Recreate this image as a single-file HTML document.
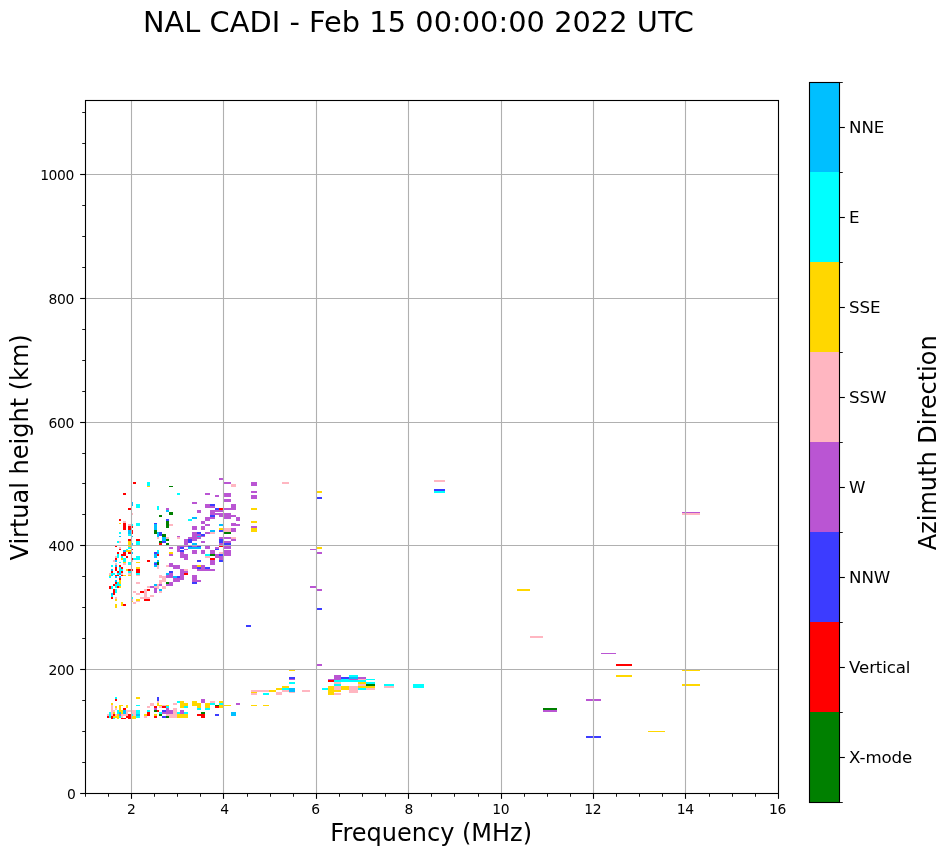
<!DOCTYPE html>
<html lang="en"><head><meta charset="utf-8"><title>NAL CADI - Feb 15 00:00:00 2022 UTC</title>
<style>
html,body{margin:0;padding:0;background:#fff;}
body{width:951px;height:856px;overflow:hidden;}
svg{display:block;will-change:transform;}
text{font-family:"DejaVu Sans","Liberation Sans",sans-serif;fill:#000;}
.tk{font-size:13.89px;letter-spacing:-0.4px;}
.cb{font-size:16.67px;letter-spacing:-0.15px;}
.lab{font-size:24px;}
.ttl{font-size:28.8px;letter-spacing:0.04px;}
</style></head><body>
<svg width="951" height="856" viewBox="0 0 951 856">
<rect x="0" y="0" width="951" height="856" fill="#ffffff"/>
<g id="cells" shape-rendering="crispEdges">
<rect x="517" y="589" width="13" height="2" fill="#ffd700"/>
<rect x="530" y="636" width="13" height="2" fill="#ffb6c1"/>
<rect x="543" y="708" width="14" height="2" fill="#008000"/>
<rect x="543" y="710" width="14" height="2" fill="#ba55d3"/>
<rect x="586" y="699" width="15" height="2" fill="#ba55d3"/>
<rect x="586" y="736" width="15" height="2" fill="#3c3cff"/>
<rect x="601" y="653" width="15" height="1" fill="#ba55d3"/>
<rect x="616" y="664" width="16" height="2" fill="#ff0000"/>
<rect x="616" y="675" width="16" height="2" fill="#ffd700"/>
<rect x="648" y="731" width="17" height="1" fill="#ffd700"/>
<rect x="682" y="669" width="18" height="2" fill="#ffd700"/>
<rect x="682" y="684" width="18" height="2" fill="#ffd700"/>
<rect x="115" y="697" width="2" height="2" fill="#00ffff"/>
<rect x="115" y="699" width="2" height="2" fill="#ff0000"/>
<rect x="111" y="703" width="2" height="2" fill="#ffd700"/>
<rect x="111" y="705" width="2" height="1" fill="#ffb6c1"/>
<rect x="119" y="705" width="4" height="1" fill="#ffd700"/>
<rect x="126" y="705" width="2" height="1" fill="#ffd700"/>
<rect x="111" y="706" width="2" height="2" fill="#ffb6c1"/>
<rect x="115" y="706" width="2" height="2" fill="#ffd700"/>
<rect x="119" y="706" width="2" height="2" fill="#ffd700"/>
<rect x="126" y="706" width="2" height="2" fill="#ffd700"/>
<rect x="111" y="708" width="2" height="2" fill="#ffb6c1"/>
<rect x="115" y="708" width="2" height="2" fill="#ffb6c1"/>
<rect x="119" y="708" width="2" height="2" fill="#ffd700"/>
<rect x="123" y="708" width="3" height="2" fill="#ff0000"/>
<rect x="111" y="710" width="4" height="2" fill="#ffb6c1"/>
<rect x="117" y="710" width="2" height="2" fill="#00ffff"/>
<rect x="119" y="710" width="4" height="2" fill="#ffd700"/>
<rect x="123" y="710" width="3" height="2" fill="#00bfff"/>
<rect x="126" y="710" width="5" height="2" fill="#ffb6c1"/>
<rect x="109" y="712" width="2" height="2" fill="#00ffff"/>
<rect x="111" y="712" width="2" height="2" fill="#ffb6c1"/>
<rect x="113" y="712" width="2" height="2" fill="#ffd700"/>
<rect x="117" y="712" width="2" height="2" fill="#00ffff"/>
<rect x="119" y="712" width="2" height="2" fill="#00bfff"/>
<rect x="121" y="712" width="2" height="2" fill="#ffd700"/>
<rect x="123" y="712" width="3" height="2" fill="#00bfff"/>
<rect x="126" y="712" width="2" height="2" fill="#ffb6c1"/>
<rect x="107" y="714" width="2" height="2" fill="#ffb6c1"/>
<rect x="109" y="714" width="2" height="2" fill="#00ffff"/>
<rect x="111" y="714" width="2" height="2" fill="#ffb6c1"/>
<rect x="113" y="714" width="2" height="2" fill="#ff0000"/>
<rect x="115" y="714" width="2" height="2" fill="#ffb6c1"/>
<rect x="117" y="714" width="2" height="2" fill="#ffd700"/>
<rect x="119" y="714" width="2" height="2" fill="#ba55d3"/>
<rect x="121" y="714" width="7" height="2" fill="#ffb6c1"/>
<rect x="128" y="714" width="3" height="2" fill="#ff0000"/>
<rect x="107" y="716" width="2" height="2" fill="#ff0000"/>
<rect x="109" y="716" width="2" height="2" fill="#00ffff"/>
<rect x="111" y="716" width="2" height="2" fill="#ff0000"/>
<rect x="113" y="716" width="6" height="2" fill="#ffd700"/>
<rect x="119" y="716" width="2" height="2" fill="#00ffff"/>
<rect x="121" y="716" width="2" height="2" fill="#ffb6c1"/>
<rect x="126" y="716" width="5" height="2" fill="#ff0000"/>
<rect x="111" y="718" width="2" height="1" fill="#ff0000"/>
<rect x="113" y="718" width="2" height="1" fill="#00ffff"/>
<rect x="117" y="718" width="2" height="1" fill="#ffd700"/>
<rect x="121" y="718" width="5" height="1" fill="#ff0000"/>
<rect x="128" y="718" width="3" height="1" fill="#ff0000"/>
<rect x="136" y="697" width="4" height="2" fill="#ffd700"/>
<rect x="157" y="697" width="2" height="2" fill="#3c3cff"/>
<rect x="157" y="699" width="2" height="2" fill="#3c3cff"/>
<rect x="157" y="701" width="2" height="2" fill="#ffb6c1"/>
<rect x="150" y="703" width="4" height="2" fill="#ffb6c1"/>
<rect x="157" y="703" width="2" height="2" fill="#ffd700"/>
<rect x="136" y="705" width="4" height="1" fill="#00ffff"/>
<rect x="150" y="705" width="4" height="1" fill="#ffb6c1"/>
<rect x="157" y="705" width="5" height="1" fill="#ffd700"/>
<rect x="147" y="706" width="3" height="2" fill="#ffb6c1"/>
<rect x="154" y="706" width="3" height="2" fill="#ff0000"/>
<rect x="159" y="706" width="3" height="2" fill="#ffb6c1"/>
<rect x="154" y="708" width="3" height="2" fill="#ba55d3"/>
<rect x="131" y="710" width="5" height="2" fill="#ffb6c1"/>
<rect x="136" y="710" width="4" height="2" fill="#00ffff"/>
<rect x="147" y="710" width="3" height="2" fill="#00ffff"/>
<rect x="154" y="710" width="3" height="2" fill="#008000"/>
<rect x="157" y="710" width="2" height="2" fill="#ff0000"/>
<rect x="131" y="712" width="5" height="2" fill="#ffb6c1"/>
<rect x="136" y="712" width="4" height="2" fill="#00ffff"/>
<rect x="147" y="712" width="3" height="2" fill="#ff0000"/>
<rect x="159" y="712" width="3" height="2" fill="#00ffff"/>
<rect x="131" y="714" width="2" height="2" fill="#00ffff"/>
<rect x="133" y="714" width="3" height="2" fill="#ffb6c1"/>
<rect x="136" y="714" width="4" height="2" fill="#00bfff"/>
<rect x="144" y="714" width="3" height="2" fill="#ffd700"/>
<rect x="147" y="714" width="3" height="2" fill="#ff0000"/>
<rect x="154" y="714" width="3" height="2" fill="#ffd700"/>
<rect x="159" y="714" width="3" height="2" fill="#008000"/>
<rect x="131" y="716" width="5" height="2" fill="#ffd700"/>
<rect x="136" y="716" width="4" height="2" fill="#00ffff"/>
<rect x="144" y="716" width="3" height="2" fill="#ffb6c1"/>
<rect x="154" y="716" width="3" height="2" fill="#ff0000"/>
<rect x="131" y="718" width="5" height="1" fill="#ffd700"/>
<rect x="177" y="701" width="3" height="2" fill="#00ffff"/>
<rect x="180" y="701" width="4" height="2" fill="#ffd700"/>
<rect x="192" y="701" width="5" height="2" fill="#ffd700"/>
<rect x="173" y="703" width="4" height="2" fill="#ffb6c1"/>
<rect x="180" y="703" width="8" height="2" fill="#ffd700"/>
<rect x="192" y="703" width="5" height="2" fill="#ffd700"/>
<rect x="162" y="705" width="4" height="1" fill="#ffb6c1"/>
<rect x="166" y="705" width="3" height="1" fill="#ffd700"/>
<rect x="180" y="705" width="8" height="1" fill="#ffd700"/>
<rect x="192" y="705" width="5" height="1" fill="#ffd700"/>
<rect x="162" y="706" width="4" height="2" fill="#ff0000"/>
<rect x="166" y="706" width="3" height="2" fill="#00ffff"/>
<rect x="180" y="706" width="4" height="2" fill="#ffd700"/>
<rect x="184" y="706" width="4" height="2" fill="#00ffff"/>
<rect x="166" y="708" width="3" height="2" fill="#ba55d3"/>
<rect x="173" y="708" width="4" height="2" fill="#ffb6c1"/>
<rect x="162" y="710" width="4" height="2" fill="#3c3cff"/>
<rect x="166" y="710" width="7" height="2" fill="#ba55d3"/>
<rect x="173" y="710" width="4" height="2" fill="#ffb6c1"/>
<rect x="180" y="710" width="4" height="2" fill="#ba55d3"/>
<rect x="162" y="712" width="11" height="2" fill="#ba55d3"/>
<rect x="173" y="712" width="4" height="2" fill="#ffb6c1"/>
<rect x="177" y="712" width="3" height="2" fill="#00ffff"/>
<rect x="180" y="712" width="4" height="2" fill="#ba55d3"/>
<rect x="184" y="712" width="4" height="2" fill="#00ffff"/>
<rect x="166" y="714" width="11" height="2" fill="#ffb6c1"/>
<rect x="177" y="714" width="11" height="2" fill="#ffd700"/>
<rect x="162" y="716" width="4" height="2" fill="#3c3cff"/>
<rect x="166" y="716" width="3" height="2" fill="#008000"/>
<rect x="169" y="716" width="8" height="2" fill="#ffb6c1"/>
<rect x="177" y="716" width="11" height="2" fill="#ffd700"/>
<rect x="201" y="699" width="4" height="2" fill="#ba55d3"/>
<rect x="201" y="701" width="4" height="2" fill="#ba55d3"/>
<rect x="210" y="701" width="5" height="2" fill="#ffb6c1"/>
<rect x="219" y="701" width="5" height="2" fill="#ffd700"/>
<rect x="197" y="703" width="4" height="2" fill="#ffd700"/>
<rect x="205" y="703" width="5" height="2" fill="#ffd700"/>
<rect x="210" y="703" width="5" height="2" fill="#00ffff"/>
<rect x="219" y="703" width="5" height="2" fill="#00ffff"/>
<rect x="197" y="705" width="4" height="1" fill="#ffd700"/>
<rect x="205" y="705" width="5" height="1" fill="#ffd700"/>
<rect x="215" y="705" width="4" height="1" fill="#008000"/>
<rect x="219" y="705" width="5" height="1" fill="#ffd700"/>
<rect x="197" y="706" width="4" height="2" fill="#ffd700"/>
<rect x="205" y="706" width="5" height="2" fill="#ffd700"/>
<rect x="215" y="706" width="4" height="2" fill="#ff0000"/>
<rect x="219" y="706" width="5" height="2" fill="#ffd700"/>
<rect x="197" y="708" width="4" height="2" fill="#00ffff"/>
<rect x="205" y="708" width="5" height="2" fill="#00ffff"/>
<rect x="201" y="712" width="4" height="2" fill="#008000"/>
<rect x="197" y="714" width="8" height="2" fill="#ff0000"/>
<rect x="215" y="714" width="4" height="2" fill="#3c3cff"/>
<rect x="201" y="716" width="4" height="2" fill="#ff0000"/>
<rect x="224" y="705" width="7" height="1" fill="#ffd700"/>
<rect x="236" y="703" width="4" height="2" fill="#ba55d3"/>
<rect x="231" y="712" width="5" height="4" fill="#00bfff"/>
<rect x="251" y="690" width="18" height="2" fill="#ffb6c1"/>
<rect x="251" y="692" width="6" height="1" fill="#ffd700"/>
<rect x="251" y="693" width="6" height="2" fill="#ffb6c1"/>
<rect x="263" y="693" width="6" height="2" fill="#00ffff"/>
<rect x="251" y="705" width="6" height="1" fill="#ffd700"/>
<rect x="263" y="705" width="6" height="1" fill="#ffd700"/>
<rect x="289" y="669" width="6" height="2" fill="#ffd700"/>
<rect x="289" y="677" width="6" height="2" fill="#3c3cff"/>
<rect x="289" y="679" width="6" height="1" fill="#ba55d3"/>
<rect x="289" y="682" width="6" height="2" fill="#00ffff"/>
<rect x="282" y="686" width="7" height="2" fill="#ffd700"/>
<rect x="276" y="688" width="6" height="2" fill="#ffd700"/>
<rect x="282" y="688" width="7" height="2" fill="#00ffff"/>
<rect x="289" y="688" width="6" height="2" fill="#00bfff"/>
<rect x="269" y="690" width="7" height="2" fill="#ffd700"/>
<rect x="282" y="690" width="7" height="2" fill="#ffb6c1"/>
<rect x="289" y="690" width="6" height="2" fill="#00bfff"/>
<rect x="302" y="690" width="8" height="2" fill="#ffb6c1"/>
<rect x="276" y="692" width="6" height="1" fill="#ffb6c1"/>
<rect x="289" y="692" width="6" height="1" fill="#ffb6c1"/>
<rect x="276" y="693" width="6" height="2" fill="#ffb6c1"/>
<rect x="316" y="664" width="6" height="2" fill="#ba55d3"/>
<rect x="334" y="675" width="7" height="2" fill="#ba55d3"/>
<rect x="349" y="675" width="9" height="2" fill="#00ffff"/>
<rect x="334" y="677" width="7" height="2" fill="#ba55d3"/>
<rect x="341" y="677" width="8" height="2" fill="#3c3cff"/>
<rect x="349" y="677" width="9" height="2" fill="#00bfff"/>
<rect x="328" y="679" width="13" height="1" fill="#ba55d3"/>
<rect x="341" y="679" width="8" height="1" fill="#00ffff"/>
<rect x="349" y="679" width="9" height="1" fill="#ba55d3"/>
<rect x="328" y="680" width="6" height="2" fill="#ff0000"/>
<rect x="334" y="680" width="24" height="2" fill="#00ffff"/>
<rect x="334" y="682" width="7" height="2" fill="#ffb6c1"/>
<rect x="334" y="684" width="7" height="2" fill="#00ffff"/>
<rect x="328" y="686" width="6" height="2" fill="#ffd700"/>
<rect x="334" y="686" width="7" height="2" fill="#ffb6c1"/>
<rect x="341" y="686" width="8" height="2" fill="#ffd700"/>
<rect x="349" y="686" width="9" height="2" fill="#ffb6c1"/>
<rect x="322" y="688" width="6" height="2" fill="#00ffff"/>
<rect x="328" y="688" width="6" height="2" fill="#ffd700"/>
<rect x="334" y="688" width="7" height="2" fill="#ffb6c1"/>
<rect x="341" y="688" width="8" height="2" fill="#ffd700"/>
<rect x="349" y="688" width="9" height="2" fill="#ffb6c1"/>
<rect x="328" y="690" width="13" height="2" fill="#ffd700"/>
<rect x="349" y="690" width="9" height="2" fill="#ffb6c1"/>
<rect x="328" y="692" width="6" height="1" fill="#ffd700"/>
<rect x="349" y="692" width="9" height="1" fill="#ffb6c1"/>
<rect x="328" y="693" width="6" height="2" fill="#ffd700"/>
<rect x="334" y="693" width="7" height="2" fill="#ffb6c1"/>
<rect x="358" y="677" width="8" height="2" fill="#ba55d3"/>
<rect x="358" y="679" width="8" height="1" fill="#ffb6c1"/>
<rect x="366" y="679" width="9" height="1" fill="#00ffff"/>
<rect x="358" y="680" width="8" height="2" fill="#00ffff"/>
<rect x="358" y="682" width="8" height="2" fill="#ffd700"/>
<rect x="366" y="682" width="9" height="2" fill="#00ffff"/>
<rect x="358" y="684" width="8" height="2" fill="#ffb6c1"/>
<rect x="366" y="684" width="9" height="2" fill="#008000"/>
<rect x="384" y="684" width="10" height="2" fill="#00ffff"/>
<rect x="358" y="686" width="17" height="2" fill="#ffd700"/>
<rect x="384" y="686" width="10" height="2" fill="#ffb6c1"/>
<rect x="358" y="688" width="8" height="2" fill="#00ffff"/>
<rect x="366" y="688" width="9" height="2" fill="#ffb6c1"/>
<rect x="413" y="684" width="11" height="4" fill="#00ffff"/>
<rect x="133" y="482" width="3" height="2" fill="#ff0000"/>
<rect x="147" y="482" width="3" height="4" fill="#00ffff"/>
<rect x="147" y="486" width="3" height="1" fill="#ffd700"/>
<rect x="123" y="493" width="3" height="2" fill="#ff0000"/>
<rect x="131" y="502" width="2" height="4" fill="#00bfff"/>
<rect x="136" y="504" width="4" height="4" fill="#00ffff"/>
<rect x="128" y="508" width="3" height="2" fill="#ff0000"/>
<rect x="131" y="513" width="2" height="2" fill="#ffb6c1"/>
<rect x="169" y="486" width="4" height="1" fill="#008000"/>
<rect x="177" y="493" width="3" height="2" fill="#00ffff"/>
<rect x="192" y="502" width="5" height="2" fill="#ba55d3"/>
<rect x="157" y="506" width="2" height="4" fill="#00ffff"/>
<rect x="166" y="508" width="3" height="2" fill="#ba55d3"/>
<rect x="166" y="510" width="3" height="2" fill="#00bfff"/>
<rect x="169" y="512" width="4" height="3" fill="#008000"/>
<rect x="159" y="515" width="3" height="2" fill="#008000"/>
<rect x="166" y="519" width="3" height="2" fill="#3c3cff"/>
<rect x="192" y="517" width="5" height="2" fill="#00bfff"/>
<rect x="188" y="519" width="4" height="2" fill="#00ffff"/>
<rect x="219" y="478" width="5" height="2" fill="#ba55d3"/>
<rect x="224" y="482" width="7" height="2" fill="#ba55d3"/>
<rect x="231" y="484" width="5" height="3" fill="#ffb6c1"/>
<rect x="205" y="493" width="5" height="2" fill="#ba55d3"/>
<rect x="215" y="495" width="4" height="2" fill="#ba55d3"/>
<rect x="224" y="493" width="7" height="4" fill="#ba55d3"/>
<rect x="224" y="499" width="7" height="3" fill="#ba55d3"/>
<rect x="205" y="504" width="5" height="4" fill="#ba55d3"/>
<rect x="210" y="504" width="5" height="2" fill="#3c3cff"/>
<rect x="210" y="506" width="5" height="2" fill="#ba55d3"/>
<rect x="231" y="504" width="5" height="6" fill="#ba55d3"/>
<rect x="215" y="508" width="4" height="2" fill="#3c3cff"/>
<rect x="219" y="508" width="5" height="2" fill="#ff0000"/>
<rect x="224" y="508" width="7" height="2" fill="#ba55d3"/>
<rect x="197" y="510" width="4" height="3" fill="#ba55d3"/>
<rect x="210" y="510" width="5" height="5" fill="#ba55d3"/>
<rect x="215" y="510" width="9" height="2" fill="#ba55d3"/>
<rect x="215" y="513" width="9" height="2" fill="#ba55d3"/>
<rect x="224" y="513" width="7" height="6" fill="#ba55d3"/>
<rect x="210" y="515" width="5" height="2" fill="#3c3cff"/>
<rect x="219" y="515" width="5" height="2" fill="#ba55d3"/>
<rect x="231" y="515" width="5" height="2" fill="#ba55d3"/>
<rect x="205" y="517" width="10" height="2" fill="#ba55d3"/>
<rect x="236" y="517" width="4" height="2" fill="#ba55d3"/>
<rect x="251" y="482" width="6" height="4" fill="#ba55d3"/>
<rect x="251" y="491" width="6" height="2" fill="#ba55d3"/>
<rect x="251" y="495" width="6" height="4" fill="#ba55d3"/>
<rect x="251" y="508" width="6" height="2" fill="#ffd700"/>
<rect x="251" y="521" width="6" height="2" fill="#ffd700"/>
<rect x="251" y="526" width="6" height="2" fill="#ba55d3"/>
<rect x="251" y="528" width="6" height="4" fill="#ffd700"/>
<rect x="282" y="482" width="7" height="2" fill="#ffb6c1"/>
<rect x="316" y="491" width="6" height="2" fill="#ffd700"/>
<rect x="316" y="497" width="6" height="2" fill="#3c3cff"/>
<rect x="316" y="547" width="6" height="2" fill="#ffd700"/>
<rect x="310" y="549" width="6" height="1" fill="#ba55d3"/>
<rect x="316" y="552" width="6" height="2" fill="#ba55d3"/>
<rect x="119" y="519" width="2" height="2" fill="#ff0000"/>
<rect x="123" y="521" width="3" height="2" fill="#ffb6c1"/>
<rect x="119" y="523" width="2" height="1" fill="#ffd700"/>
<rect x="123" y="523" width="3" height="1" fill="#ff0000"/>
<rect x="136" y="523" width="4" height="1" fill="#00ffff"/>
<rect x="123" y="524" width="3" height="2" fill="#ff0000"/>
<rect x="128" y="524" width="3" height="2" fill="#ffb6c1"/>
<rect x="131" y="524" width="2" height="2" fill="#00ffff"/>
<rect x="136" y="524" width="4" height="2" fill="#00ffff"/>
<rect x="123" y="526" width="3" height="2" fill="#ff0000"/>
<rect x="128" y="526" width="5" height="2" fill="#ff0000"/>
<rect x="123" y="528" width="3" height="2" fill="#ff0000"/>
<rect x="128" y="528" width="3" height="2" fill="#ff0000"/>
<rect x="128" y="530" width="3" height="2" fill="#00bfff"/>
<rect x="131" y="530" width="2" height="2" fill="#ff0000"/>
<rect x="119" y="532" width="2" height="2" fill="#00ffff"/>
<rect x="128" y="532" width="3" height="2" fill="#00bfff"/>
<rect x="131" y="532" width="2" height="2" fill="#ff0000"/>
<rect x="128" y="534" width="3" height="2" fill="#00ffff"/>
<rect x="119" y="536" width="2" height="1" fill="#00bfff"/>
<rect x="131" y="536" width="2" height="1" fill="#00bfff"/>
<rect x="128" y="539" width="3" height="2" fill="#ff0000"/>
<rect x="136" y="539" width="4" height="2" fill="#ff0000"/>
<rect x="117" y="541" width="2" height="2" fill="#00ffff"/>
<rect x="119" y="541" width="2" height="2" fill="#ffb6c1"/>
<rect x="128" y="541" width="3" height="2" fill="#ffd700"/>
<rect x="136" y="541" width="4" height="2" fill="#00ffff"/>
<rect x="128" y="543" width="3" height="2" fill="#ffd700"/>
<rect x="131" y="543" width="2" height="2" fill="#00bfff"/>
<rect x="136" y="543" width="4" height="2" fill="#00ffff"/>
<rect x="115" y="545" width="2" height="2" fill="#ff0000"/>
<rect x="128" y="545" width="3" height="2" fill="#ffd700"/>
<rect x="119" y="547" width="2" height="2" fill="#ffb6c1"/>
<rect x="128" y="547" width="3" height="2" fill="#00ffff"/>
<rect x="119" y="549" width="2" height="1" fill="#ff0000"/>
<rect x="126" y="549" width="2" height="1" fill="#00ffff"/>
<rect x="131" y="549" width="2" height="1" fill="#ff0000"/>
<rect x="123" y="550" width="3" height="2" fill="#00bfff"/>
<rect x="126" y="550" width="5" height="2" fill="#ffd700"/>
<rect x="117" y="552" width="2" height="2" fill="#ff0000"/>
<rect x="123" y="552" width="3" height="2" fill="#ff0000"/>
<rect x="128" y="552" width="3" height="2" fill="#ff0000"/>
<rect x="131" y="552" width="2" height="2" fill="#00bfff"/>
<rect x="117" y="554" width="2" height="2" fill="#00ffff"/>
<rect x="121" y="554" width="5" height="2" fill="#ff0000"/>
<rect x="115" y="556" width="2" height="2" fill="#ffb6c1"/>
<rect x="117" y="556" width="2" height="2" fill="#00ffff"/>
<rect x="121" y="556" width="2" height="2" fill="#00ffff"/>
<rect x="126" y="556" width="2" height="2" fill="#ff0000"/>
<rect x="136" y="556" width="4" height="2" fill="#00ffff"/>
<rect x="115" y="558" width="2" height="2" fill="#ff0000"/>
<rect x="121" y="558" width="2" height="2" fill="#ffd700"/>
<rect x="123" y="558" width="3" height="2" fill="#00ffff"/>
<rect x="131" y="558" width="2" height="2" fill="#ff0000"/>
<rect x="133" y="558" width="7" height="2" fill="#00ffff"/>
<rect x="113" y="560" width="2" height="2" fill="#ffb6c1"/>
<rect x="115" y="560" width="2" height="2" fill="#00bfff"/>
<rect x="123" y="560" width="3" height="2" fill="#00ffff"/>
<rect x="131" y="560" width="2" height="2" fill="#ffb6c1"/>
<rect x="147" y="560" width="3" height="2" fill="#ff0000"/>
<rect x="119" y="562" width="2" height="1" fill="#00ffff"/>
<rect x="123" y="562" width="3" height="1" fill="#ffd700"/>
<rect x="128" y="562" width="3" height="1" fill="#00ffff"/>
<rect x="136" y="562" width="4" height="1" fill="#ffd700"/>
<rect x="115" y="563" width="2" height="2" fill="#ffb6c1"/>
<rect x="123" y="563" width="3" height="2" fill="#ffb6c1"/>
<rect x="128" y="563" width="3" height="2" fill="#00ffff"/>
<rect x="166" y="519" width="3" height="2" fill="#3c3cff"/>
<rect x="188" y="519" width="4" height="2" fill="#00ffff"/>
<rect x="166" y="521" width="3" height="2" fill="#008000"/>
<rect x="154" y="523" width="3" height="1" fill="#3c3cff"/>
<rect x="166" y="523" width="3" height="1" fill="#008000"/>
<rect x="154" y="524" width="3" height="2" fill="#00bfff"/>
<rect x="166" y="524" width="3" height="2" fill="#008000"/>
<rect x="169" y="524" width="4" height="2" fill="#ffb6c1"/>
<rect x="154" y="526" width="3" height="2" fill="#00bfff"/>
<rect x="166" y="526" width="3" height="2" fill="#008000"/>
<rect x="192" y="526" width="5" height="2" fill="#ba55d3"/>
<rect x="154" y="528" width="3" height="2" fill="#00bfff"/>
<rect x="192" y="528" width="5" height="2" fill="#ba55d3"/>
<rect x="154" y="530" width="3" height="2" fill="#008000"/>
<rect x="154" y="532" width="3" height="2" fill="#008000"/>
<rect x="157" y="532" width="2" height="2" fill="#00bfff"/>
<rect x="159" y="532" width="3" height="2" fill="#3c3cff"/>
<rect x="192" y="532" width="5" height="2" fill="#ba55d3"/>
<rect x="157" y="534" width="2" height="2" fill="#00bfff"/>
<rect x="159" y="534" width="3" height="2" fill="#3c3cff"/>
<rect x="162" y="534" width="4" height="2" fill="#008000"/>
<rect x="192" y="534" width="5" height="2" fill="#ba55d3"/>
<rect x="157" y="536" width="2" height="1" fill="#00bfff"/>
<rect x="162" y="536" width="4" height="1" fill="#008000"/>
<rect x="177" y="536" width="3" height="1" fill="#ba55d3"/>
<rect x="192" y="536" width="5" height="1" fill="#ba55d3"/>
<rect x="157" y="537" width="2" height="2" fill="#ffb6c1"/>
<rect x="162" y="537" width="4" height="2" fill="#00bfff"/>
<rect x="166" y="537" width="3" height="2" fill="#ffb6c1"/>
<rect x="177" y="537" width="3" height="2" fill="#ffb6c1"/>
<rect x="188" y="537" width="9" height="2" fill="#ba55d3"/>
<rect x="162" y="539" width="4" height="2" fill="#00bfff"/>
<rect x="166" y="539" width="3" height="2" fill="#008000"/>
<rect x="184" y="539" width="4" height="2" fill="#ba55d3"/>
<rect x="188" y="539" width="4" height="2" fill="#3c3cff"/>
<rect x="192" y="539" width="5" height="2" fill="#ba55d3"/>
<rect x="159" y="541" width="3" height="2" fill="#008000"/>
<rect x="162" y="541" width="4" height="2" fill="#3c3cff"/>
<rect x="184" y="541" width="4" height="2" fill="#ba55d3"/>
<rect x="188" y="541" width="4" height="2" fill="#3c3cff"/>
<rect x="159" y="543" width="3" height="2" fill="#ff0000"/>
<rect x="166" y="543" width="3" height="2" fill="#008000"/>
<rect x="184" y="543" width="4" height="2" fill="#ba55d3"/>
<rect x="192" y="543" width="5" height="2" fill="#00bfff"/>
<rect x="177" y="545" width="11" height="2" fill="#ba55d3"/>
<rect x="188" y="545" width="4" height="2" fill="#3c3cff"/>
<rect x="192" y="545" width="5" height="2" fill="#ba55d3"/>
<rect x="169" y="547" width="4" height="2" fill="#ba55d3"/>
<rect x="177" y="547" width="3" height="2" fill="#ba55d3"/>
<rect x="180" y="547" width="4" height="2" fill="#3c3cff"/>
<rect x="188" y="547" width="9" height="2" fill="#00bfff"/>
<rect x="177" y="549" width="3" height="1" fill="#ba55d3"/>
<rect x="184" y="549" width="4" height="1" fill="#ba55d3"/>
<rect x="157" y="550" width="2" height="2" fill="#00ffff"/>
<rect x="177" y="550" width="3" height="2" fill="#ba55d3"/>
<rect x="180" y="550" width="4" height="2" fill="#3c3cff"/>
<rect x="192" y="550" width="5" height="2" fill="#ba55d3"/>
<rect x="154" y="552" width="3" height="2" fill="#3c3cff"/>
<rect x="157" y="552" width="2" height="2" fill="#00bfff"/>
<rect x="169" y="552" width="4" height="2" fill="#ffd700"/>
<rect x="180" y="552" width="4" height="2" fill="#ba55d3"/>
<rect x="192" y="552" width="5" height="2" fill="#ba55d3"/>
<rect x="154" y="554" width="3" height="2" fill="#00bfff"/>
<rect x="157" y="554" width="2" height="2" fill="#ff0000"/>
<rect x="169" y="554" width="4" height="2" fill="#ba55d3"/>
<rect x="180" y="554" width="8" height="2" fill="#ba55d3"/>
<rect x="154" y="556" width="3" height="2" fill="#00bfff"/>
<rect x="180" y="556" width="8" height="2" fill="#ba55d3"/>
<rect x="184" y="558" width="4" height="2" fill="#ba55d3"/>
<rect x="157" y="560" width="2" height="2" fill="#00bfff"/>
<rect x="154" y="562" width="3" height="1" fill="#00bfff"/>
<rect x="157" y="562" width="2" height="1" fill="#008000"/>
<rect x="154" y="563" width="3" height="2" fill="#3c3cff"/>
<rect x="157" y="563" width="2" height="2" fill="#008000"/>
<rect x="169" y="563" width="4" height="2" fill="#ba55d3"/>
<rect x="205" y="519" width="5" height="2" fill="#ba55d3"/>
<rect x="236" y="519" width="4" height="2" fill="#ba55d3"/>
<rect x="201" y="521" width="4" height="2" fill="#ba55d3"/>
<rect x="201" y="523" width="4" height="1" fill="#ba55d3"/>
<rect x="231" y="523" width="5" height="1" fill="#ba55d3"/>
<rect x="205" y="524" width="5" height="2" fill="#ba55d3"/>
<rect x="219" y="524" width="5" height="2" fill="#00bfff"/>
<rect x="231" y="524" width="9" height="2" fill="#ba55d3"/>
<rect x="201" y="526" width="4" height="2" fill="#ba55d3"/>
<rect x="201" y="528" width="4" height="2" fill="#ba55d3"/>
<rect x="219" y="528" width="5" height="2" fill="#ffd700"/>
<rect x="224" y="528" width="7" height="2" fill="#ffb6c1"/>
<rect x="231" y="528" width="5" height="2" fill="#ba55d3"/>
<rect x="210" y="530" width="5" height="2" fill="#00bfff"/>
<rect x="219" y="530" width="5" height="2" fill="#3c3cff"/>
<rect x="224" y="530" width="7" height="2" fill="#ffb6c1"/>
<rect x="231" y="530" width="5" height="2" fill="#ba55d3"/>
<rect x="197" y="532" width="4" height="2" fill="#3c3cff"/>
<rect x="205" y="532" width="5" height="2" fill="#ba55d3"/>
<rect x="210" y="532" width="5" height="2" fill="#ffb6c1"/>
<rect x="224" y="532" width="7" height="2" fill="#008000"/>
<rect x="197" y="534" width="4" height="2" fill="#ba55d3"/>
<rect x="201" y="534" width="4" height="2" fill="#3c3cff"/>
<rect x="197" y="536" width="4" height="1" fill="#00bfff"/>
<rect x="201" y="536" width="4" height="1" fill="#ba55d3"/>
<rect x="197" y="537" width="4" height="2" fill="#ba55d3"/>
<rect x="219" y="537" width="12" height="2" fill="#ba55d3"/>
<rect x="231" y="537" width="5" height="2" fill="#ffb6c1"/>
<rect x="219" y="539" width="5" height="2" fill="#3c3cff"/>
<rect x="231" y="539" width="5" height="2" fill="#ba55d3"/>
<rect x="201" y="541" width="4" height="2" fill="#ba55d3"/>
<rect x="219" y="541" width="5" height="2" fill="#3c3cff"/>
<rect x="224" y="541" width="7" height="2" fill="#ba55d3"/>
<rect x="219" y="543" width="5" height="2" fill="#ba55d3"/>
<rect x="224" y="543" width="7" height="2" fill="#3c3cff"/>
<rect x="197" y="545" width="4" height="2" fill="#3c3cff"/>
<rect x="205" y="545" width="5" height="2" fill="#ba55d3"/>
<rect x="219" y="545" width="5" height="2" fill="#ff0000"/>
<rect x="224" y="545" width="7" height="2" fill="#ba55d3"/>
<rect x="197" y="547" width="4" height="2" fill="#00bfff"/>
<rect x="205" y="547" width="5" height="2" fill="#ba55d3"/>
<rect x="215" y="547" width="4" height="2" fill="#ba55d3"/>
<rect x="224" y="547" width="7" height="2" fill="#ba55d3"/>
<rect x="215" y="549" width="4" height="1" fill="#3c3cff"/>
<rect x="201" y="550" width="4" height="2" fill="#ba55d3"/>
<rect x="210" y="550" width="5" height="2" fill="#ba55d3"/>
<rect x="224" y="550" width="7" height="2" fill="#ba55d3"/>
<rect x="201" y="552" width="4" height="2" fill="#ba55d3"/>
<rect x="210" y="552" width="5" height="2" fill="#ba55d3"/>
<rect x="219" y="552" width="5" height="2" fill="#ffb6c1"/>
<rect x="224" y="552" width="7" height="2" fill="#ba55d3"/>
<rect x="205" y="554" width="5" height="2" fill="#00ffff"/>
<rect x="210" y="554" width="5" height="2" fill="#008000"/>
<rect x="215" y="554" width="4" height="2" fill="#ba55d3"/>
<rect x="219" y="554" width="5" height="2" fill="#3c3cff"/>
<rect x="224" y="554" width="7" height="2" fill="#ba55d3"/>
<rect x="205" y="556" width="5" height="2" fill="#ffb6c1"/>
<rect x="215" y="556" width="9" height="2" fill="#ba55d3"/>
<rect x="210" y="558" width="5" height="2" fill="#ff0000"/>
<rect x="219" y="558" width="5" height="2" fill="#ba55d3"/>
<rect x="197" y="560" width="4" height="2" fill="#3c3cff"/>
<rect x="210" y="560" width="5" height="2" fill="#ba55d3"/>
<rect x="219" y="560" width="5" height="2" fill="#3c3cff"/>
<rect x="210" y="562" width="5" height="1" fill="#ba55d3"/>
<rect x="210" y="563" width="5" height="2" fill="#ba55d3"/>
<rect x="111" y="565" width="2" height="2" fill="#00ffff"/>
<rect x="115" y="565" width="2" height="2" fill="#00bfff"/>
<rect x="119" y="565" width="2" height="2" fill="#ff0000"/>
<rect x="115" y="567" width="2" height="2" fill="#ff0000"/>
<rect x="119" y="567" width="2" height="2" fill="#00ffff"/>
<rect x="121" y="567" width="2" height="2" fill="#ff0000"/>
<rect x="136" y="567" width="4" height="2" fill="#ffd700"/>
<rect x="111" y="569" width="2" height="2" fill="#00bfff"/>
<rect x="115" y="569" width="2" height="2" fill="#ff0000"/>
<rect x="119" y="569" width="4" height="2" fill="#00ffff"/>
<rect x="126" y="569" width="2" height="2" fill="#ffd700"/>
<rect x="128" y="569" width="5" height="2" fill="#ff0000"/>
<rect x="136" y="569" width="4" height="2" fill="#ff0000"/>
<rect x="111" y="571" width="2" height="2" fill="#ff0000"/>
<rect x="117" y="571" width="2" height="2" fill="#ff0000"/>
<rect x="119" y="571" width="2" height="2" fill="#00ffff"/>
<rect x="121" y="571" width="2" height="2" fill="#ff0000"/>
<rect x="128" y="571" width="3" height="2" fill="#00ffff"/>
<rect x="136" y="571" width="4" height="2" fill="#ff0000"/>
<rect x="109" y="573" width="2" height="2" fill="#ffb6c1"/>
<rect x="111" y="573" width="4" height="2" fill="#00ffff"/>
<rect x="117" y="573" width="2" height="2" fill="#00ffff"/>
<rect x="119" y="573" width="2" height="2" fill="#00bfff"/>
<rect x="121" y="573" width="2" height="2" fill="#ffb6c1"/>
<rect x="128" y="573" width="3" height="2" fill="#ffb6c1"/>
<rect x="136" y="573" width="4" height="2" fill="#00ffff"/>
<rect x="109" y="575" width="2" height="1" fill="#ffd700"/>
<rect x="111" y="575" width="2" height="1" fill="#00bfff"/>
<rect x="115" y="575" width="4" height="1" fill="#ff0000"/>
<rect x="121" y="575" width="2" height="1" fill="#ff0000"/>
<rect x="123" y="575" width="3" height="1" fill="#ffd700"/>
<rect x="128" y="575" width="3" height="1" fill="#ffd700"/>
<rect x="136" y="575" width="4" height="1" fill="#ffb6c1"/>
<rect x="109" y="576" width="2" height="2" fill="#00ffff"/>
<rect x="115" y="576" width="2" height="2" fill="#00bfff"/>
<rect x="119" y="576" width="2" height="2" fill="#00bfff"/>
<rect x="119" y="578" width="2" height="2" fill="#ff0000"/>
<rect x="115" y="580" width="2" height="2" fill="#00bfff"/>
<rect x="119" y="580" width="2" height="2" fill="#ffd700"/>
<rect x="115" y="582" width="2" height="2" fill="#ff0000"/>
<rect x="117" y="582" width="2" height="2" fill="#00ffff"/>
<rect x="119" y="582" width="2" height="2" fill="#ffd700"/>
<rect x="136" y="582" width="4" height="2" fill="#ffb6c1"/>
<rect x="113" y="584" width="2" height="2" fill="#ff0000"/>
<rect x="115" y="584" width="6" height="2" fill="#00ffff"/>
<rect x="109" y="586" width="2" height="2" fill="#ff0000"/>
<rect x="111" y="586" width="2" height="2" fill="#00ffff"/>
<rect x="115" y="586" width="2" height="2" fill="#00ffff"/>
<rect x="117" y="586" width="2" height="2" fill="#ff0000"/>
<rect x="119" y="586" width="2" height="2" fill="#ffd700"/>
<rect x="147" y="586" width="3" height="2" fill="#ffb6c1"/>
<rect x="150" y="586" width="4" height="2" fill="#ba55d3"/>
<rect x="109" y="588" width="2" height="1" fill="#ff0000"/>
<rect x="111" y="588" width="2" height="1" fill="#00ffff"/>
<rect x="113" y="589" width="2" height="2" fill="#ff0000"/>
<rect x="115" y="589" width="2" height="2" fill="#00ffff"/>
<rect x="144" y="589" width="3" height="2" fill="#ffb6c1"/>
<rect x="147" y="589" width="3" height="2" fill="#ff0000"/>
<rect x="113" y="591" width="2" height="2" fill="#ff0000"/>
<rect x="115" y="591" width="2" height="2" fill="#00ffff"/>
<rect x="133" y="591" width="3" height="2" fill="#ffb6c1"/>
<rect x="140" y="591" width="4" height="2" fill="#ff0000"/>
<rect x="144" y="591" width="3" height="2" fill="#ffb6c1"/>
<rect x="111" y="593" width="2" height="2" fill="#00bfff"/>
<rect x="113" y="593" width="2" height="2" fill="#ff0000"/>
<rect x="136" y="593" width="4" height="2" fill="#ffb6c1"/>
<rect x="144" y="593" width="3" height="2" fill="#ffb6c1"/>
<rect x="111" y="595" width="2" height="2" fill="#00ffff"/>
<rect x="144" y="595" width="3" height="2" fill="#ffb6c1"/>
<rect x="150" y="595" width="4" height="2" fill="#ffb6c1"/>
<rect x="111" y="597" width="2" height="2" fill="#ff0000"/>
<rect x="115" y="597" width="2" height="2" fill="#ffb6c1"/>
<rect x="131" y="597" width="2" height="2" fill="#00ffff"/>
<rect x="140" y="597" width="10" height="2" fill="#ffb6c1"/>
<rect x="115" y="599" width="2" height="2" fill="#ffd700"/>
<rect x="131" y="599" width="2" height="2" fill="#ffb6c1"/>
<rect x="136" y="599" width="4" height="2" fill="#ffd700"/>
<rect x="144" y="599" width="6" height="2" fill="#ff0000"/>
<rect x="131" y="601" width="2" height="1" fill="#ffd700"/>
<rect x="136" y="601" width="4" height="1" fill="#ffb6c1"/>
<rect x="121" y="602" width="2" height="2" fill="#ffd700"/>
<rect x="133" y="602" width="3" height="2" fill="#ffb6c1"/>
<rect x="115" y="604" width="2" height="2" fill="#ffd700"/>
<rect x="121" y="604" width="2" height="2" fill="#ffd700"/>
<rect x="123" y="604" width="3" height="2" fill="#ff0000"/>
<rect x="115" y="606" width="2" height="2" fill="#ffd700"/>
<rect x="154" y="565" width="3" height="2" fill="#00bfff"/>
<rect x="157" y="565" width="2" height="2" fill="#ffb6c1"/>
<rect x="166" y="565" width="3" height="2" fill="#ffb6c1"/>
<rect x="169" y="565" width="11" height="2" fill="#ba55d3"/>
<rect x="192" y="565" width="5" height="2" fill="#ba55d3"/>
<rect x="157" y="567" width="2" height="2" fill="#ffb6c1"/>
<rect x="173" y="567" width="7" height="2" fill="#ba55d3"/>
<rect x="192" y="567" width="5" height="2" fill="#ba55d3"/>
<rect x="180" y="569" width="4" height="2" fill="#ba55d3"/>
<rect x="184" y="569" width="4" height="2" fill="#ffb6c1"/>
<rect x="169" y="571" width="4" height="2" fill="#3c3cff"/>
<rect x="180" y="571" width="8" height="2" fill="#ba55d3"/>
<rect x="166" y="573" width="3" height="2" fill="#00bfff"/>
<rect x="169" y="573" width="4" height="2" fill="#ba55d3"/>
<rect x="180" y="573" width="4" height="2" fill="#ba55d3"/>
<rect x="184" y="573" width="4" height="2" fill="#ff0000"/>
<rect x="159" y="575" width="3" height="1" fill="#ffb6c1"/>
<rect x="166" y="575" width="7" height="1" fill="#ba55d3"/>
<rect x="180" y="575" width="4" height="1" fill="#ba55d3"/>
<rect x="192" y="575" width="5" height="1" fill="#ba55d3"/>
<rect x="159" y="576" width="7" height="2" fill="#ffb6c1"/>
<rect x="166" y="576" width="7" height="2" fill="#ba55d3"/>
<rect x="173" y="576" width="4" height="2" fill="#00bfff"/>
<rect x="177" y="576" width="3" height="2" fill="#3c3cff"/>
<rect x="180" y="576" width="4" height="2" fill="#ba55d3"/>
<rect x="192" y="576" width="5" height="2" fill="#ba55d3"/>
<rect x="162" y="578" width="4" height="2" fill="#ffb6c1"/>
<rect x="173" y="578" width="11" height="2" fill="#ba55d3"/>
<rect x="192" y="578" width="5" height="2" fill="#ba55d3"/>
<rect x="159" y="580" width="7" height="2" fill="#ffb6c1"/>
<rect x="173" y="580" width="7" height="2" fill="#ba55d3"/>
<rect x="192" y="580" width="5" height="2" fill="#ba55d3"/>
<rect x="159" y="582" width="3" height="2" fill="#ffb6c1"/>
<rect x="166" y="582" width="3" height="2" fill="#008000"/>
<rect x="169" y="582" width="4" height="2" fill="#ba55d3"/>
<rect x="192" y="582" width="5" height="2" fill="#3c3cff"/>
<rect x="154" y="584" width="3" height="2" fill="#00bfff"/>
<rect x="157" y="584" width="2" height="2" fill="#ffb6c1"/>
<rect x="159" y="584" width="3" height="2" fill="#ba55d3"/>
<rect x="166" y="584" width="7" height="2" fill="#ba55d3"/>
<rect x="154" y="586" width="5" height="2" fill="#ffb6c1"/>
<rect x="162" y="586" width="4" height="2" fill="#ffb6c1"/>
<rect x="154" y="588" width="3" height="1" fill="#ba55d3"/>
<rect x="157" y="588" width="2" height="1" fill="#ffb6c1"/>
<rect x="162" y="588" width="4" height="1" fill="#ffb6c1"/>
<rect x="154" y="589" width="3" height="2" fill="#ba55d3"/>
<rect x="159" y="589" width="3" height="2" fill="#00bfff"/>
<rect x="154" y="591" width="3" height="2" fill="#ba55d3"/>
<rect x="159" y="591" width="3" height="2" fill="#ffb6c1"/>
<rect x="197" y="565" width="4" height="2" fill="#ffd700"/>
<rect x="201" y="565" width="4" height="2" fill="#ba55d3"/>
<rect x="197" y="567" width="4" height="2" fill="#3c3cff"/>
<rect x="201" y="567" width="4" height="2" fill="#ba55d3"/>
<rect x="205" y="567" width="5" height="2" fill="#3c3cff"/>
<rect x="197" y="569" width="18" height="2" fill="#ba55d3"/>
<rect x="197" y="580" width="4" height="2" fill="#ba55d3"/>
<rect x="310" y="586" width="6" height="2" fill="#ba55d3"/>
<rect x="316" y="589" width="6" height="2" fill="#ba55d3"/>
<rect x="316" y="608" width="6" height="2" fill="#3c3cff"/>
<rect x="246" y="625" width="5" height="2" fill="#3c3cff"/>
<rect x="434" y="480" width="11" height="2" fill="#ffb6c1"/>
<rect x="434" y="489" width="11" height="2" fill="#3c3cff"/>
<rect x="434" y="491" width="11" height="2" fill="#00ffff"/>
<rect x="682" y="512" width="18" height="1" fill="#ba55d3"/>
<rect x="682" y="513" width="18" height="2" fill="#ffb6c1"/>
</g>
<g stroke="#b0b0b0" stroke-width="1.11" fill="none">
<line x1="131.50" y1="100.50" x2="131.50" y2="793.50"/>
<line x1="223.50" y1="100.50" x2="223.50" y2="793.50"/>
<line x1="316.50" y1="100.50" x2="316.50" y2="793.50"/>
<line x1="408.50" y1="100.50" x2="408.50" y2="793.50"/>
<line x1="501.50" y1="100.50" x2="501.50" y2="793.50"/>
<line x1="593.50" y1="100.50" x2="593.50" y2="793.50"/>
<line x1="685.50" y1="100.50" x2="685.50" y2="793.50"/>
<line x1="85.50" y1="669.50" x2="778.50" y2="669.50"/>
<line x1="85.50" y1="545.50" x2="778.50" y2="545.50"/>
<line x1="85.50" y1="422.50" x2="778.50" y2="422.50"/>
<line x1="85.50" y1="298.50" x2="778.50" y2="298.50"/>
<line x1="85.50" y1="174.50" x2="778.50" y2="174.50"/>
</g>
<g stroke="#000" stroke-width="1.11" fill="none">
<line x1="131.50" y1="794.00" x2="131.50" y2="798.86"/>
<line x1="223.50" y1="794.00" x2="223.50" y2="798.86"/>
<line x1="316.50" y1="794.00" x2="316.50" y2="798.86"/>
<line x1="408.50" y1="794.00" x2="408.50" y2="798.86"/>
<line x1="501.50" y1="794.00" x2="501.50" y2="798.86"/>
<line x1="593.50" y1="794.00" x2="593.50" y2="798.86"/>
<line x1="685.50" y1="794.00" x2="685.50" y2="798.86"/>
<line x1="778.50" y1="794.00" x2="778.50" y2="798.86"/>
<line x1="85.50" y1="794.00" x2="85.50" y2="796.78" stroke-width="0.9"/>
<line x1="108.50" y1="794.00" x2="108.50" y2="796.78" stroke-width="0.9"/>
<line x1="154.50" y1="794.00" x2="154.50" y2="796.78" stroke-width="0.9"/>
<line x1="177.50" y1="794.00" x2="177.50" y2="796.78" stroke-width="0.9"/>
<line x1="200.50" y1="794.00" x2="200.50" y2="796.78" stroke-width="0.9"/>
<line x1="247.50" y1="794.00" x2="247.50" y2="796.78" stroke-width="0.9"/>
<line x1="270.50" y1="794.00" x2="270.50" y2="796.78" stroke-width="0.9"/>
<line x1="293.50" y1="794.00" x2="293.50" y2="796.78" stroke-width="0.9"/>
<line x1="339.50" y1="794.00" x2="339.50" y2="796.78" stroke-width="0.9"/>
<line x1="362.50" y1="794.00" x2="362.50" y2="796.78" stroke-width="0.9"/>
<line x1="385.50" y1="794.00" x2="385.50" y2="796.78" stroke-width="0.9"/>
<line x1="431.50" y1="794.00" x2="431.50" y2="796.78" stroke-width="0.9"/>
<line x1="454.50" y1="794.00" x2="454.50" y2="796.78" stroke-width="0.9"/>
<line x1="478.50" y1="794.00" x2="478.50" y2="796.78" stroke-width="0.9"/>
<line x1="524.50" y1="794.00" x2="524.50" y2="796.78" stroke-width="0.9"/>
<line x1="547.50" y1="794.00" x2="547.50" y2="796.78" stroke-width="0.9"/>
<line x1="570.50" y1="794.00" x2="570.50" y2="796.78" stroke-width="0.9"/>
<line x1="616.50" y1="794.00" x2="616.50" y2="796.78" stroke-width="0.9"/>
<line x1="639.50" y1="794.00" x2="639.50" y2="796.78" stroke-width="0.9"/>
<line x1="662.50" y1="794.00" x2="662.50" y2="796.78" stroke-width="0.9"/>
<line x1="709.50" y1="794.00" x2="709.50" y2="796.78" stroke-width="0.9"/>
<line x1="732.50" y1="794.00" x2="732.50" y2="796.78" stroke-width="0.9"/>
<line x1="755.50" y1="794.00" x2="755.50" y2="796.78" stroke-width="0.9"/>
<line x1="80.14" y1="793.50" x2="85.00" y2="793.50"/>
<line x1="80.14" y1="669.50" x2="85.00" y2="669.50"/>
<line x1="80.14" y1="545.50" x2="85.00" y2="545.50"/>
<line x1="80.14" y1="422.50" x2="85.00" y2="422.50"/>
<line x1="80.14" y1="298.50" x2="85.00" y2="298.50"/>
<line x1="80.14" y1="174.50" x2="85.00" y2="174.50"/>
<line x1="82.22" y1="762.50" x2="85.00" y2="762.50" stroke-width="0.9"/>
<line x1="82.22" y1="731.50" x2="85.00" y2="731.50" stroke-width="0.9"/>
<line x1="82.22" y1="700.50" x2="85.00" y2="700.50" stroke-width="0.9"/>
<line x1="82.22" y1="638.50" x2="85.00" y2="638.50" stroke-width="0.9"/>
<line x1="82.22" y1="607.50" x2="85.00" y2="607.50" stroke-width="0.9"/>
<line x1="82.22" y1="576.50" x2="85.00" y2="576.50" stroke-width="0.9"/>
<line x1="82.22" y1="514.50" x2="85.00" y2="514.50" stroke-width="0.9"/>
<line x1="82.22" y1="483.50" x2="85.00" y2="483.50" stroke-width="0.9"/>
<line x1="82.22" y1="453.50" x2="85.00" y2="453.50" stroke-width="0.9"/>
<line x1="82.22" y1="391.50" x2="85.00" y2="391.50" stroke-width="0.9"/>
<line x1="82.22" y1="360.50" x2="85.00" y2="360.50" stroke-width="0.9"/>
<line x1="82.22" y1="329.50" x2="85.00" y2="329.50" stroke-width="0.9"/>
<line x1="82.22" y1="267.50" x2="85.00" y2="267.50" stroke-width="0.9"/>
<line x1="82.22" y1="236.50" x2="85.00" y2="236.50" stroke-width="0.9"/>
<line x1="82.22" y1="205.50" x2="85.00" y2="205.50" stroke-width="0.9"/>
<line x1="82.22" y1="143.50" x2="85.00" y2="143.50" stroke-width="0.9"/>
<line x1="82.22" y1="112.50" x2="85.00" y2="112.50" stroke-width="0.9"/>
</g>
<rect x="85.50" y="100.50" width="693.00" height="693.00" fill="none" stroke="#000" stroke-width="1.11"/>
<text class="tk" x="131.10" y="813.50" text-anchor="middle">2</text>
<text class="tk" x="224.40" y="813.50" text-anchor="middle">4</text>
<text class="tk" x="315.50" y="813.50" text-anchor="middle">6</text>
<text class="tk" x="408.80" y="813.50" text-anchor="middle">8</text>
<text class="tk" x="500.80" y="813.50" text-anchor="middle">10</text>
<text class="tk" x="592.80" y="813.50" text-anchor="middle">12</text>
<text class="tk" x="685.20" y="813.50" text-anchor="middle">14</text>
<text class="tk" x="777.40" y="813.50" text-anchor="middle">16</text>
<text class="tk" x="75.50" y="798.80" text-anchor="end">0</text>
<text class="tk" x="73.90" y="674.80" text-anchor="end">200</text>
<text class="tk" x="73.90" y="550.80" text-anchor="end">400</text>
<text class="tk" x="73.90" y="427.80" text-anchor="end">600</text>
<text class="tk" x="73.90" y="303.80" text-anchor="end">800</text>
<text class="tk" x="73.90" y="179.80" text-anchor="end">1000</text>
<text class="lab" x="431.20" y="840.60" text-anchor="middle">Frequency (MHz)</text>
<text class="lab" transform="translate(28.20,447.40) rotate(-90)" text-anchor="middle">Virtual height (km)</text>
<text class="ttl" x="418.50" y="32.00" text-anchor="middle">NAL CADI - Feb 15 00:00:00 2022 UTC</text>
<g shape-rendering="crispEdges">
<rect x="809" y="712" width="31" height="91" fill="#008000"/>
<rect x="809" y="622" width="31" height="90" fill="#ff0000"/>
<rect x="809" y="532" width="31" height="90" fill="#3c3cff"/>
<rect x="809" y="442" width="31" height="90" fill="#ba55d3"/>
<rect x="809" y="352" width="31" height="90" fill="#ffb6c1"/>
<rect x="809" y="262" width="31" height="90" fill="#ffd700"/>
<rect x="809" y="172" width="31" height="90" fill="#00ffff"/>
<rect x="809" y="82" width="31" height="90" fill="#00bfff"/>
</g>
<rect x="809.50" y="82.50" width="30.00" height="720.00" fill="none" stroke="#000" stroke-width="1.11"/>
<g stroke="#000" stroke-width="1.11" fill="none">
<line x1="840.00" y1="757.50" x2="844.86" y2="757.50"/>
<line x1="840.00" y1="667.50" x2="844.86" y2="667.50"/>
<line x1="840.00" y1="577.50" x2="844.86" y2="577.50"/>
<line x1="840.00" y1="487.50" x2="844.86" y2="487.50"/>
<line x1="840.00" y1="397.50" x2="844.86" y2="397.50"/>
<line x1="840.00" y1="307.50" x2="844.86" y2="307.50"/>
<line x1="840.00" y1="217.50" x2="844.86" y2="217.50"/>
<line x1="840.00" y1="127.50" x2="844.86" y2="127.50"/>
<line x1="840.00" y1="802.50" x2="842.78" y2="802.50" stroke-width="0.9"/>
<line x1="840.00" y1="712.50" x2="842.78" y2="712.50" stroke-width="0.9"/>
<line x1="840.00" y1="622.50" x2="842.78" y2="622.50" stroke-width="0.9"/>
<line x1="840.00" y1="532.50" x2="842.78" y2="532.50" stroke-width="0.9"/>
<line x1="840.00" y1="442.50" x2="842.78" y2="442.50" stroke-width="0.9"/>
<line x1="840.00" y1="352.50" x2="842.78" y2="352.50" stroke-width="0.9"/>
<line x1="840.00" y1="262.50" x2="842.78" y2="262.50" stroke-width="0.9"/>
<line x1="840.00" y1="172.50" x2="842.78" y2="172.50" stroke-width="0.9"/>
<line x1="840.00" y1="82.50" x2="842.78" y2="82.50" stroke-width="0.9"/>
</g>
<text class="cb" x="849.10" y="762.60">X-mode</text>
<text class="cb" x="849.10" y="672.60">Vertical</text>
<text class="cb" x="849.10" y="582.60">NNW</text>
<text class="cb" x="849.10" y="492.60">W</text>
<text class="cb" x="849.10" y="402.60">SSW</text>
<text class="cb" x="849.10" y="312.60">SSE</text>
<text class="cb" x="849.10" y="222.60">E</text>
<text class="cb" x="849.10" y="132.60">NNE</text>
<text class="lab" transform="translate(935.80,442.80) rotate(-90)" text-anchor="middle">Azimuth Direction</text>
</svg>
</body></html>
